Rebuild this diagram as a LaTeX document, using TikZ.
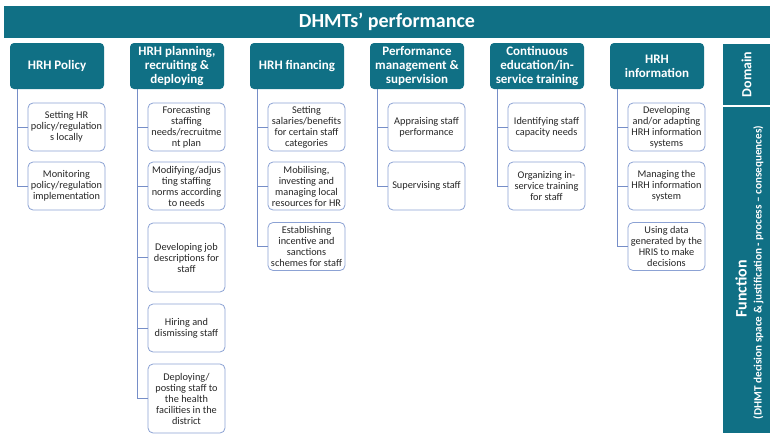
\documentclass[tikz,border=0pt]{standalone}
\usepackage{fontspec}
\setmainfont{Carlito}
\definecolor{teal1}{RGB}{16,112,133}
\definecolor{linec}{RGB}{118,142,200}
\definecolor{boxc}{RGB}{140,162,212}
\definecolor{txt}{RGB}{38,38,38}
\begin{document}
\begin{tikzpicture}[x=1pt,y=-1pt,
  hdr/.style={fill=teal1, rounded corners=4pt, minimum width=94pt, minimum height=46pt, inner sep=1pt,
    text=white, font=\fontsize{13}{14}\selectfont\bfseries, align=center},
  child/.style={draw=boxc, line width=0.8pt, fill=white, rounded corners=5pt, minimum width=77pt,
    inner sep=1pt, text=txt, font=\fontsize{10.3}{11}\selectfont, align=center},
  conn/.style={draw=linec, line width=0.8pt},
  side/.style={fill=teal1, inner sep=0pt, text=white}]
\useasboundingbox (0,0) rectangle (780,439);
% banner
\node[side, minimum width=766pt, minimum height=32pt, font=\fontsize{20}{22}\selectfont\bfseries] (title) at (387,22) {DHMTs’ performance};
% side boxes
\node[side, minimum width=47pt, minimum height=61pt] (dom) at (746.5,74.5) {};
\node[font=\fontsize{14}{16}\selectfont\bfseries, text=white, rotate=90] (domt) at (dom.center) {Domain};
\node[side, minimum width=47pt, minimum height=326pt] (fun) at (746.5,270) {};
\node[rotate=90, text=white, font=\fontsize{16}{18}\selectfont\bfseries] (funa) at (741,289) {Function};
\node[rotate=90, text=white, font=\fontsize{11.2}{13}\selectfont\bfseries] (funb) at (758.5,272.5)
  {(DHMT decision space \& justification - process – consequences)};
% headers
\node[hdr] (h1) at (57,66) {HRH Policy};
\node[hdr] (h2) at (177,66) {HRH planning,\\recruiting \&\\deploying};
\node[hdr] (h3) at (297,66) {HRH financing};
\node[hdr] (h4) at (417,66) {Performance\\management \&\\supervision};
\node[hdr] (h5) at (537,66) {Continuous\\education/in-\\service training};
\node[hdr] (h6) at (657,66) {HRH\\information};
% column 1
\node[child, minimum height=48pt] (c11) at (66.5,127) {Setting HR\\policy/regulation\\s locally};
\node[child, minimum height=48pt] (c12) at (66.5,186) {Monitoring\\policy/regulation\\implementation};
% column 2
\node[child, minimum height=48pt] (c21) at (186.5,127) {Forecasting\\staffing\\needs/recruitme\\nt plan};
\node[child, minimum height=48pt] (c22) at (186.5,186) {Modifying/adjus\\ting staffing\\norms according\\to needs};
\node[child, minimum height=69pt] (c23) at (186.5,257.5) {Developing job\\descriptions for\\staff};
\node[child, minimum height=48pt] (c24) at (186.5,328) {Hiring and\\dismissing staff};
\node[child, minimum height=69pt] (c25) at (186.5,398.5) {Deploying/\\posting staff to\\the health\\facilities in the\\district};
% column 3
\node[child, minimum height=48pt] (c31) at (306.5,127) {Setting\\salaries/benefits\\for certain staff\\categories};
\node[child, minimum height=48pt] (c32) at (306.5,186) {Mobilising,\\investing and\\managing local\\resources for HR};
\node[child, minimum height=48pt] (c33) at (306.5,246.5) {Establishing\\incentive and\\sanctions\\schemes for staff};
% column 4
\node[child, minimum height=48pt] (c41) at (426.5,127) {Appraising staff\\performance};
\node[child, minimum height=48pt] (c42) at (426.5,186) {Supervising staff};
% column 5
\node[child, minimum height=48pt] (c51) at (546.5,127) {Identifying staff\\capacity needs};
\node[child, minimum height=48pt] (c52) at (546.5,186) {Organizing in-\\service training\\for staff};
% column 6
\node[child, minimum height=48pt] (c61) at (666.5,127) {Developing\\and/or adapting\\HRH information\\systems};
\node[child, minimum height=48pt] (c62) at (666.5,186) {Managing the\\HRH information\\system};
\node[child, minimum height=48pt] (c63) at (666.5,246.5) {Using data\\generated by the\\HRIS to make\\decisions};
% connectors
\foreach \h/\cs in {h1/{c11,c12}, h2/{c21,c22,c23,c24,c25}, h3/{c31,c32,c33}, h4/{c41,c42}, h5/{c51,c52}, h6/{c61,c62,c63}}{
  \foreach \c in \cs {
    \draw[conn] ([xshift=8pt]\h.south west) |- (\c.west);
  }
}
\end{tikzpicture}
\end{document}
